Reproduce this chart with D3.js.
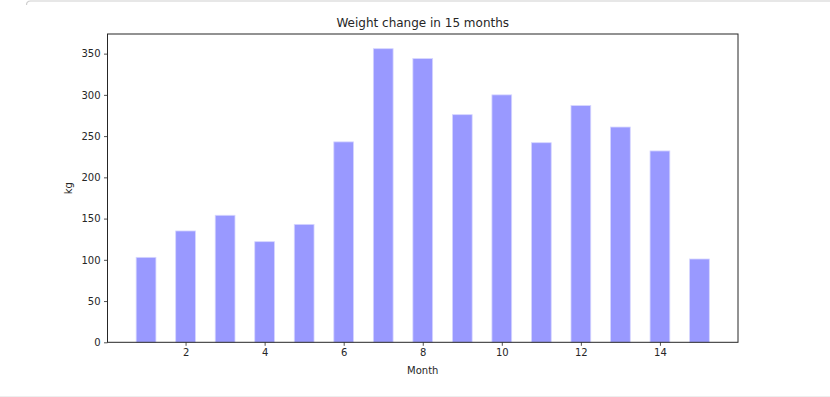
<!DOCTYPE html>
<html>
<head>
<meta charset="utf-8">
<script src="https://cdn.jsdelivr.net/npm/d3@7"></script>
<style>
  html, body { margin: 0; padding: 0; background: #fff; }
  svg { display: block; }
  text { font-family: "DejaVu Sans", sans-serif; fill: #262626; }
</style>
</head>
<body>
<script>
const months = [1, 2, 3, 4, 5, 6, 7, 8, 9, 10, 11, 12, 13, 14, 15];
const weights = [103, 135, 154, 122, 143, 243, 356, 344, 276, 300, 242, 287, 261, 232, 101];
const xTicks = [2, 4, 6, 8, 10, 12, 14];
const yTicks = [0, 50, 100, 150, 200, 250, 300, 350];
const titleText = "Weight change in 15 months";
const xLabel = "Month";
const yLabel = "kg";

const W = 830, H = 397;
const m = { left: 107.5, right: 738, top: 34, bottom: 342.3 };
const barWidth = 0.5;

const svg = d3.select("body").append("svg").attr("width", W).attr("height", H);

// notebook cell frame lines
svg.append("path")
  .attr("d", "M26.5,5 Q26.5,1 30.5,1 L830,1")
  .attr("fill", "none").attr("stroke", "#cfcfcf").attr("stroke-width", 1.2);
svg.append("line").attr("x1", 0).attr("x2", W).attr("y1", 396.5).attr("y2", 396.5)
  .attr("stroke", "#eeeeee").attr("stroke-width", 1);

const xMin = d3.min(months) - barWidth / 2, xMax = d3.max(months) + barWidth / 2;
const xPad = (xMax - xMin) * 0.05;
const x = d3.scaleLinear().domain([xMin - xPad, xMax + xPad]).range([m.left, m.right]);
const y = d3.scaleLinear().domain([0, d3.max(weights) * 1.05]).range([m.bottom, m.top]);

svg.append("g").selectAll("rect").data(months).join("rect")
  .attr("x", (d) => x(d - barWidth / 2))
  .attr("width", (d) => x(d + barWidth / 2) - x(d - barWidth / 2))
  .attr("y", (d, i) => y(weights[i]))
  .attr("height", (d, i) => y(0) - y(weights[i]))
  .attr("fill", "#9999ff")
  .attr("stroke", "#d6d6ff")
  .attr("stroke-width", 0.8);

const xAxis = svg.append("g").attr("transform", `translate(0,${m.bottom})`)
  .call(d3.axisBottom(x).tickValues(xTicks).tickSize(3.5).tickPadding(3.5).tickSizeOuter(0));
const yAxis = svg.append("g").attr("transform", `translate(${m.left},0)`)
  .call(d3.axisLeft(y).tickValues(yTicks).tickSize(3.5).tickPadding(3.5).tickSizeOuter(0));

[xAxis, yAxis].forEach(g => {
  g.select(".domain").remove();
  g.selectAll("line").attr("stroke", "#262626").attr("stroke-width", 0.8);
  g.selectAll("text").attr("font-family", "DejaVu Sans").attr("font-size", 10).attr("fill", "#262626");
});

// frame
svg.append("rect")
  .attr("x", m.left).attr("y", m.top)
  .attr("width", m.right - m.left).attr("height", m.bottom - m.top)
  .attr("fill", "none").attr("stroke", "#262626").attr("stroke-width", 1);

svg.append("text").attr("x", (m.left + m.right) / 2).attr("y", 26.5)
  .attr("text-anchor", "middle").attr("font-size", 12).text(titleText);

svg.append("text").attr("x", (m.left + m.right) / 2).attr("y", 374)
  .attr("text-anchor", "middle").attr("font-size", 10).text(xLabel);

svg.append("text")
  .attr("transform", `translate(71.5,${(m.top + m.bottom) / 2}) rotate(-90)`)
  .attr("text-anchor", "middle").attr("font-size", 10).text(yLabel);
</script>
</body>
</html>
